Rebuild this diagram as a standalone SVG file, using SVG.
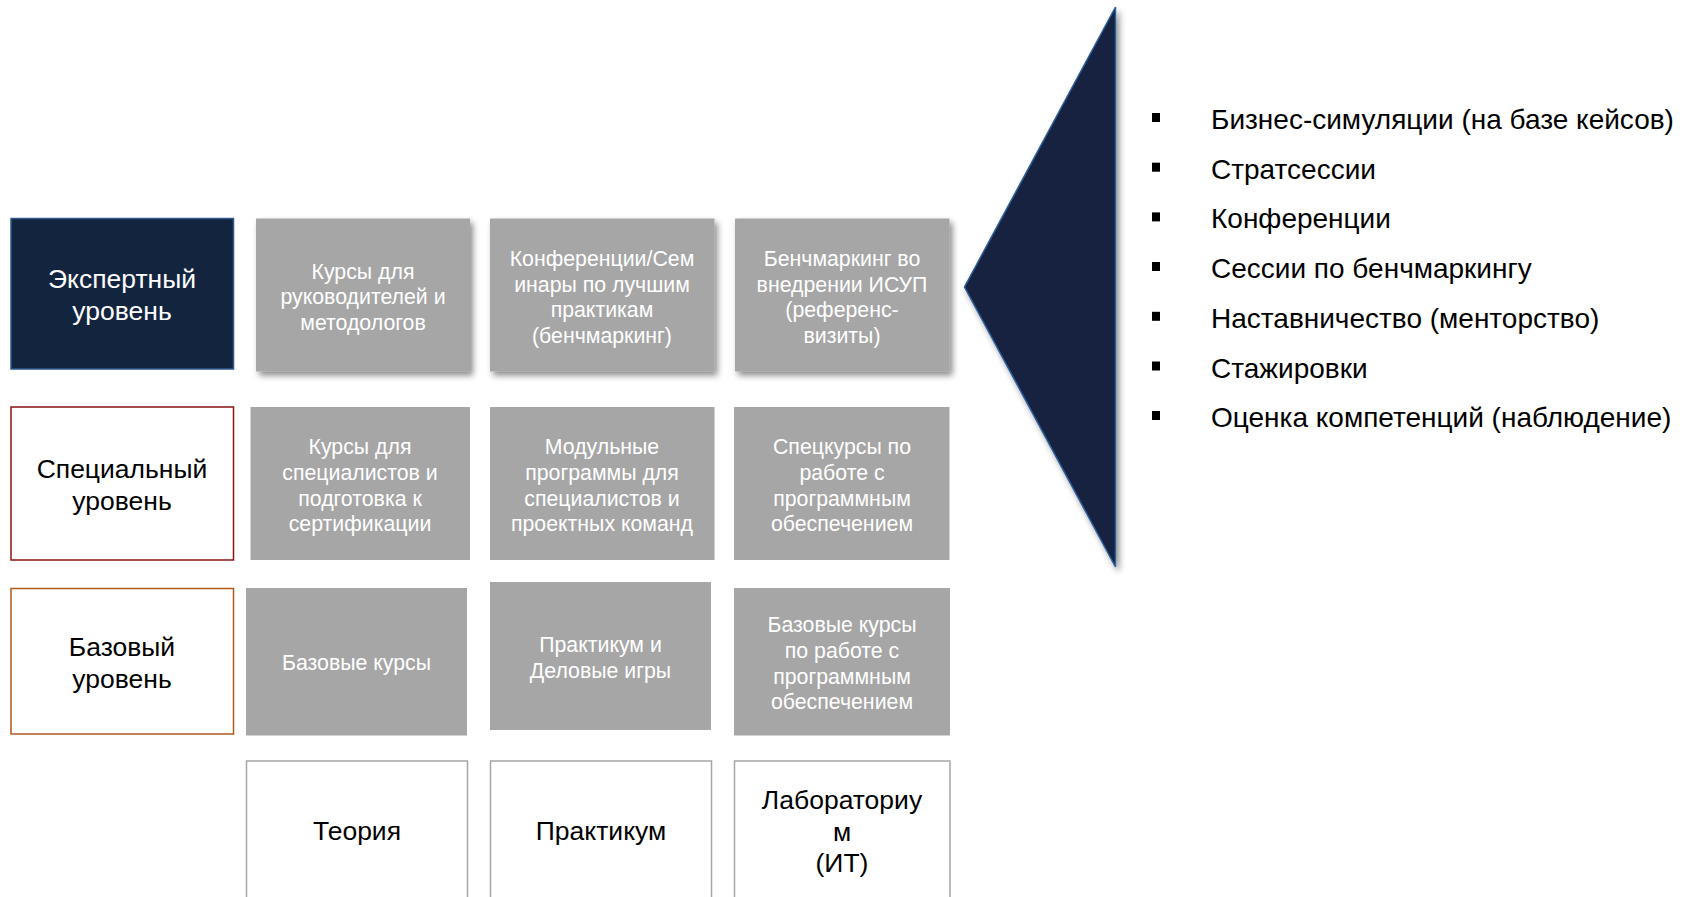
<svg xmlns="http://www.w3.org/2000/svg" width="1686" height="897" viewBox="0 0 1686 897">
<defs>
<filter id="sh" x="-10%" y="-10%" width="125%" height="130%">
<feDropShadow dx="3" dy="4" stdDeviation="3" flood-color="#000" flood-opacity="0.45"/>
</filter>
<style>
text{font-family:"Liberation Sans",Arial,sans-serif;text-anchor:middle}
.g{fill:#A6A6A6}
.gt{fill:#FFFFFF;font-size:21.3px}
.lv{font-size:26.5px}
.bt{font-size:26.5px;fill:#000}
.w{fill:#FFFFFF;stroke:#A6A6A6;stroke-width:1.5}
.li{font-size:28px;text-anchor:start;fill:#000}
.bu{fill:#000}
</style>
</defs>
<rect width="1686" height="897" fill="#FFFFFF"/>

<g id="level-expert">
<rect x="11" y="218.5" width="222.5" height="150.5" fill="#13243F" stroke="#2E5A8C" stroke-width="1.5"/>
<text class="lv" fill="#FFFFFF"><tspan x="122" y="288">Экспертный</tspan><tspan x="122" y="320">уровень</tspan></text>
</g>
<g id="level-special">
<rect x="11" y="407" width="222.5" height="153" fill="#FFFFFF" stroke="#8B1313" stroke-width="1.5"/>
<text class="lv" fill="#000"><tspan x="122" y="477.5">Специальный</tspan><tspan x="122" y="510">уровень</tspan></text>
</g>
<g id="level-base">
<rect x="11" y="588.5" width="222.5" height="145.5" fill="#FFFFFF" stroke="#B05A1E" stroke-width="1.5"/>
<text class="lv" fill="#000"><tspan x="122" y="655.5">Базовый</tspan><tspan x="122" y="688">уровень</tspan></text>
</g>

<g id="r1c1">
<rect class="g" x="256" y="218.5" width="214" height="153" filter="url(#sh)"/>
<text class="gt"><tspan x="363" y="278.5">Курсы для</tspan><tspan x="363" y="304">руководителей и</tspan><tspan x="363" y="329.5">методологов</tspan></text>
</g>
<g id="r1c2">
<rect class="g" x="490" y="218.5" width="224.5" height="153" filter="url(#sh)"/>
<text class="gt"><tspan x="602" y="265.5">Конференции/Сем</tspan><tspan x="602" y="291.5">инары по лучшим</tspan><tspan x="602" y="317">практикам</tspan><tspan x="602" y="343">(бенчмаркинг)</tspan></text>
</g>
<g id="r1c3">
<rect class="g" x="735" y="218.5" width="214.5" height="153" filter="url(#sh)"/>
<text class="gt"><tspan x="842" y="265.5">Бенчмаркинг во</tspan><tspan x="842" y="291.5">внедрении ИСУП</tspan><tspan x="842" y="317">(референс-</tspan><tspan x="842" y="343">визиты)</tspan></text>
</g>

<g id="r2c1">
<rect class="g" x="250.5" y="407" width="219.5" height="153"/>
<text class="gt"><tspan x="360" y="453.5">Курсы для</tspan><tspan x="360" y="479.5">специалистов и</tspan><tspan x="360" y="505.5">подготовка к</tspan><tspan x="360" y="531">сертификации</tspan></text>
</g>
<g id="r2c2">
<rect class="g" x="490" y="407" width="224.5" height="153"/>
<text class="gt"><tspan x="602" y="453.5">Модульные</tspan><tspan x="602" y="479.5">программы для</tspan><tspan x="602" y="505.5">специалистов и</tspan><tspan x="602" y="531">проектных команд</tspan></text>
</g>
<g id="r2c3">
<rect class="g" x="734" y="407" width="215.5" height="153"/>
<text class="gt"><tspan x="842" y="453.5">Спецкурсы по</tspan><tspan x="842" y="479.5">работе с</tspan><tspan x="842" y="505.5">программным</tspan><tspan x="842" y="531">обеспечением</tspan></text>
</g>

<g id="r3c1">
<rect class="g" x="246" y="588" width="221" height="147.5"/>
<text class="gt"><tspan x="356.5" y="669.5">Базовые курсы</tspan></text>
</g>
<g id="r3c2">
<rect class="g" x="490" y="582" width="221" height="148"/>
<text class="gt"><tspan x="600.5" y="651.5">Практикум и</tspan><tspan x="600.5" y="677.5">Деловые игры</tspan></text>
</g>
<g id="r3c3">
<rect class="g" x="734" y="588" width="216" height="147.5"/>
<text class="gt"><tspan x="842" y="632">Базовые курсы</tspan><tspan x="842" y="658">по работе с</tspan><tspan x="842" y="684">программным</tspan><tspan x="842" y="709">обеспечением</tspan></text>
</g>

<g id="c-theory">
<rect class="w" x="246.5" y="761" width="221" height="150"/>
<text class="bt"><tspan x="357" y="840">Теория</tspan></text>
</g>
<g id="c-practice">
<rect class="w" x="490.5" y="761" width="221" height="150"/>
<text class="bt"><tspan x="601" y="840">Практикум</tspan></text>
</g>
<g id="c-lab">
<rect class="w" x="734.5" y="761" width="215.5" height="150"/>
<text class="bt"><tspan x="842" y="808.5">Лабораториу</tspan><tspan x="842" y="840.5">м</tspan><tspan x="842" y="871.5">(ИТ)</tspan></text>
</g>

<g id="callout">
<polygon points="1115.5,7 1115.5,567 964.5,287" fill="#13243F" stroke="#2F5E9A" stroke-width="1.5" filter="url(#sh)"/>
</g>

<g id="expert-list">
<rect class="bu" x="1152" y="113" width="8" height="9"/>
<text class="li" x="1211" y="129">Бизнес-симуляции (на базе кейсов)</text>
<rect class="bu" x="1152" y="162.7" width="8" height="9"/>
<text class="li" x="1211" y="178.7">Стратсессии</text>
<rect class="bu" x="1152" y="212.4" width="8" height="9"/>
<text class="li" x="1211" y="228.4">Конференции</text>
<rect class="bu" x="1152" y="262" width="8" height="9"/>
<text class="li" x="1211" y="278">Сессии по бенчмаркингу</text>
<rect class="bu" x="1152" y="311.8" width="8" height="9"/>
<text class="li" x="1211" y="327.8">Наставничество (менторство)</text>
<rect class="bu" x="1152" y="361.5" width="8" height="9"/>
<text class="li" x="1211" y="377.5">Стажировки</text>
<rect class="bu" x="1152" y="411" width="8" height="9"/>
<text class="li" x="1211" y="427">Оценка компетенций (наблюдение)</text>
</g>
</svg>
